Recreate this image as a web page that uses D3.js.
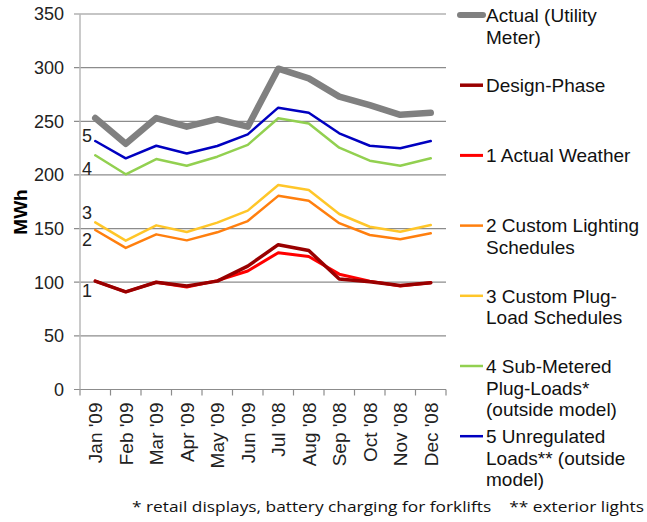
<!DOCTYPE html>
<html>
<head>
<meta charset="utf-8">
<script src="https://cdn.jsdelivr.net/npm/d3@7"></script>
<style>
  body { margin: 0; background: #fff; }
  svg { display: block; }
</style>
</head>
<body>
<script>
const width = 647, height = 522;

const months = ["Jan '09", "Feb '09", "Mar '09", "Apr '09", "May '09", "Jun '09",
                "Jul '08", "Aug '08", "Sep '08", "Oct '08", "Nov '08", "Dec '08"];
const yTicks = [0, 50, 100, 150, 200, 250, 300, 350];

const actualMeter   = [253, 229, 253, 245, 252, 245, 299, 290, 273, 265, 256, 258];
const designPhase   = [101, 91, 100, 96.5, 101, 115, 135, 129.5, 103, 100.5, 97, 99.6];
const actualWeather = [101, 91, 100, 95.5, 101.5, 110.5, 127.5, 124, 107.5, 101, 96.5, 99.6];
const customLight   = [148.7, 132, 144.6, 139, 146.5, 157, 180.5, 176, 155, 144, 140, 145.6];
const customPlug    = [155.8, 138.7, 153, 146.8, 155.5, 166.7, 190.6, 186, 163.6, 151.7, 147, 153.3];
const subMetered    = [218.3, 200.6, 214.8, 208.6, 217, 228, 252.8, 248, 225.4, 213.3, 208.6, 215.5];
const unregulated   = [231.6, 215.5, 227.2, 220, 227, 237.8, 262.7, 258, 238.8, 227.2, 224.8, 231.6];

const series = [
  { name: ["Actual (Utility", "Meter)"], values: actualMeter, color: "#808080", w: 6.5 },
  { name: ["Design-Phase"], values: designPhase, color: "#990000", w: 3.5 },
  { name: ["1 Actual Weather"], values: actualWeather, color: "#ff0000", w: 3, tag: "1", dy: 9 },
  { name: ["2 Custom Lighting", "Schedules"], values: customLight, color: "#ff7f0e", w: 2.5, tag: "2", dy: 10 },
  { name: ["3 Custom Plug-", "Load Schedules"], values: customPlug, color: "#ffc629", w: 2.5, tag: "3", dy: -10 },
  { name: ["4 Sub-Metered", "Plug-Loads*", "(outside model)"], values: subMetered, color: "#92d050", w: 2.5, tag: "4", dy: 13 },
  { name: ["5 Unregulated", "Loads** (outside", "model)"], values: unregulated, color: "#0000c0", w: 2.5, tag: "5", dy: -6 }
];

// draw order: grey meter on top, like the original
const drawOrder = [6, 5, 4, 3, 2, 1, 0];

const margin = { left: 80, right: 201, top: 14, bottom: 132.5 };

const x = d3.scaleBand()
    .domain(months)
    .range([margin.left, width - margin.right]);

const y = d3.scaleLinear()
    .domain([0, 350])
    .range([height - margin.bottom, margin.top]);

const svg = d3.select("body").append("svg")
    .attr("width", width)
    .attr("height", height)
    .style("font-family", "'Liberation Sans', Arial, sans-serif");

// gridlines + y ticks
svg.append("g")
    .selectAll("line")
    .data(yTicks)
    .join("line")
    .attr("x1", margin.left - 6)
    .attr("x2", width - margin.right)
    .attr("y1", d => y(d))
    .attr("y2", d => y(d))
    .attr("stroke", "#8c8c8c")
    .attr("stroke-width", 1.2);

svg.append("g")
    .selectAll("text")
    .data(yTicks)
    .join("text")
    .attr("x", margin.left - 16)
    .attr("y", d => y(d))
    .attr("dy", "0.36em")
    .attr("text-anchor", "end")
    .attr("font-size", 18)
    .attr("fill", "#222")
    .text(d => d);

// y axis line
svg.append("line")
    .attr("x1", margin.left).attr("x2", margin.left)
    .attr("y1", y(350)).attr("y2", y(0))
    .attr("stroke", "#b8b8b8")
    .attr("stroke-width", 1.5);

// x axis with ticks at band boundaries
const xAxis = svg.append("g");
const bounds = months.map(m => x(m)).concat([x(months[months.length - 1]) + x.bandwidth()]);
xAxis.selectAll("line")
    .data(bounds)
    .join("line")
    .attr("x1", d => d).attr("x2", d => d)
    .attr("y1", y(0)).attr("y2", y(0) + 6)
    .attr("stroke", "#8c8c8c")
    .attr("stroke-width", 1.2);

xAxis.selectAll("text")
    .data(months)
    .join("text")
    .attr("transform", d => `translate(${x(d) + x.bandwidth() / 2},${y(0) + 13}) rotate(-90)`)
    .attr("text-anchor", "end")
    .attr("dy", "0.36em")
    .attr("font-size", 19)
    .attr("fill", "#222")
    .text(d => d);

// y title
svg.append("text")
    .attr("transform", "translate(20,212) rotate(-90)")
    .attr("text-anchor", "middle")
    .attr("dy", "0.36em")
    .attr("font-size", 19)
    .attr("font-weight", "bold")
    .attr("fill", "#000")
    .text("MWh");

// lines
const line = d3.line()
    .x((d, i) => x(months[i]) + x.bandwidth() / 2)
    .y(d => y(d));

svg.append("g")
    .attr("fill", "none")
    .attr("stroke-linejoin", "round")
    .attr("stroke-linecap", "round")
    .selectAll("path")
    .data(drawOrder.map(i => series[i]))
    .join("path")
    .attr("stroke", d => d.color)
    .attr("stroke-width", d => d.w)
    .attr("d", d => line(d.values));

// numbered tags at left
svg.append("g")
    .selectAll("text")
    .data(series.filter(s => s.tag))
    .join("text")
    .attr("x", x(months[0]) + 7)
    .attr("y", d => y(d.values[0]) + d.dy)
    .attr("dy", "0.36em")
    .attr("text-anchor", "middle")
    .attr("font-size", 18)
    .attr("fill", "#222")
    .text(d => d.tag);

// legend
const legend = svg.append("g")
    .selectAll("g")
    .data(series)
    .join("g")
    .attr("transform", (d, i) => `translate(460,${15 + i * 70.2})`);

legend.append("line")
    .attr("x1", 0).attr("x2", 23)
    .attr("stroke", d => d.color)
    .attr("stroke-width", d => Math.min(d.w, 6))
    .attr("stroke-linecap", d => d.w > 4 ? "round" : "butt");

legend.append("text")
    .attr("font-size", 19)
    .attr("fill", "#111")
    .selectAll("tspan")
    .data(d => d.name)
    .join("tspan")
    .attr("x", 26)
    .attr("y", (d, i) => i * 21.7)
    .attr("dy", "0.36em")
    .text(d => d);

// footnote
svg.append("text")
    .attr("x", 132)
    .attr("y", 507)
    .attr("dy", "0.36em")
    .attr("font-size", 15)
    .attr("font-family", "'Open Sans', 'Noto Sans', sans-serif")
    .attr("textLength", 512)
    .attr("lengthAdjust", "spacingAndGlyphs")
    .attr("fill", "#111")
    .attr("xml:space", "preserve")
    .text("* retail displays, battery charging for forklifts    ** exterior lights");
</script>
</body>
</html>
